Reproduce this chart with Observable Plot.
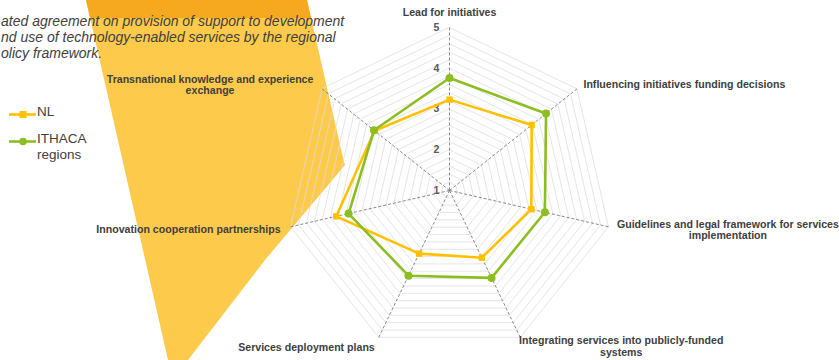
<!DOCTYPE html>
<html>
<head>
<meta charset="utf-8">
<script src="https://cdn.jsdelivr.net/npm/d3@7"></script>
<script src="https://cdn.jsdelivr.net/npm/@observablehq/plot@0.6"></script>
<style>
  html, body { margin: 0; padding: 0; background: #fff; }
  #wrap { position: relative; width: 839px; height: 360px; overflow: hidden; font-family: "Liberation Sans", Arial, sans-serif; }
  #bg { position: absolute; left: 0; top: 0; }
  #title { position: absolute; left: 1px; top: 13px; font-style: italic; font-size: 14px; line-height: 16px; color: #404040; white-space: nowrap; }
  #legend { position: absolute; left: 9px; top: 104px; font-size: 13.5px; color: #404040; }
  .li { display: flex; align-items: flex-start; height: 27px; }
  .li svg { flex: none; margin-top: 3px; }
  .li span { line-height: 16px; margin-left: 1px; }
  #chart { position: absolute; left: 0; top: 0; }
</style>
</head>
<body>
<div id="wrap">
  <svg id="bg" width="839" height="360">
    <polygon points="86,0 307,0 343,158 345,165 265,260 188,360 168,360" fill="#fdca4b"/>
    <polygon points="86,0 307,0 311,18 90,18" fill="#f6a81e"/>
  </svg>
  <div id="title">ated agreement on provision of support to development<br>nd use of technology-enabled services by the regional<br>olicy framework.</div>
  <div id="chart"></div>
  <div id="legend"></div>
</div>
<script>
// ---- data ----
const axes = [
  "Lead for initiatives",
  "Influencing initiatives funding decisions",
  "Guidelines and legal framework for services\nimplementation",
  "Integrating services into publicly-funded\nsystems",
  "Services deployment plans",
  "Innovation cooperation partnerships",
  "Transnational knowledge and experience\nexchange"
];
const seriesNames = ["NL", "ITHACA regions"];
const nlValues = [3.23, 3.58, 3.06, 2.83, 2.72, 3.85, 3.35];
const ithacaValues = [3.76, 4.03, 3.40, 3.38, 3.32, 3.54, 3.37];
const tickValues = [1, 2, 3, 4, 5];

// ---- layout / styles ----
const colors = {"NL": "#ffc000", "ITHACA regions": "#8cbe22"};
const rMin = 1, rMax = 5;
const W = 839, H = 360, cx = 449, cy = 190, pxPerUnit = 163 / (rMax - rMin);
const labelLayout = [
  {dx: 0, dy: -15, anchor: "middle"},
  {dx: 6.5, dy: -4.5, anchor: "start"},
  {dx: 119.5, dy: 3.2, anchor: "middle"},
  {dx: 101, dy: 9, anchor: "middle"},
  {dx: -4, dy: 10, anchor: "end"},
  {dx: -10, dy: 3, anchor: "end"},
  {dx: -112, dy: -4, anchor: "middle"}
];

const n = axes.length;
const ang = i => i * 2 * Math.PI / n;
const px = (v, i) => (v - rMin) * Math.sin(ang(i));
const py = (v, i) => (v - rMin) * Math.cos(ang(i));

// grid levels every 0.2
const gridLevels = d3.range(rMin + 0.2, rMax + 0.001, 0.2).map(v => +v.toFixed(1));
const gridPts = gridLevels.flatMap(l => axes.map((a, i) => ({level: l, x: px(l, i), y: py(l, i)})));
const spokes = axes.map((a, i) => ({x1: 0, y1: 0, x2: px(rMax, i), y2: py(rMax, i)}));
const seriesData = [
  ...nlValues.map((v, i) => ({series: "NL", x: px(v, i), y: py(v, i)})),
  ...ithacaValues.map((v, i) => ({series: "ITHACA regions", x: px(v, i), y: py(v, i)}))
];
const tickData = tickValues.map(t => ({t, x: px(t, 0), y: py(t, 0)}));

const labelMarks = axes.map((a, i) => Plot.text([{a, x: px(rMax, i), y: py(rMax, i)}], {
  x: "x", y: "y", text: "a", dx: labelLayout[i].dx, dy: labelLayout[i].dy,
  textAnchor: labelLayout[i].anchor, lineAnchor: "middle", lineHeight: 1.08,
  fontSize: 10.6, fontWeight: "bold", fill: "#404040"
}));

const chart = Plot.plot({
  width: W, height: H,
  margin: 0,
  style: {background: "transparent", fontFamily: "'Liberation Sans', Arial, sans-serif"},
  x: {domain: [-cx / pxPerUnit, (W - cx) / pxPerUnit], range: [0, W], axis: null},
  y: {domain: [-(H - cy) / pxPerUnit, cy / pxPerUnit], range: [H, 0], axis: null},
  marks: [
    Plot.line(gridPts, {x: "x", y: "y", z: "level", curve: "linear-closed", stroke: "#dcdcdc", strokeWidth: 0.75}),
    Plot.link(spokes, {x1: "x1", y1: "y1", x2: "x2", y2: "y2", stroke: "#7a7a7a", strokeWidth: 0.9, strokeDasharray: "3,2"}),
    Plot.text(tickData, {x: "x", y: "y", text: "t", dx: -13, fontSize: 10.5, fontWeight: "bold", fill: "#595959"}),
    Plot.line(seriesData.filter(d => d.series === "NL"), {x: "x", y: "y", curve: "linear-closed", stroke: colors["NL"], strokeWidth: 2.6}),
    Plot.dot(seriesData.filter(d => d.series === "NL"), {x: "x", y: "y", symbol: "square", r: 3.6, fill: colors["NL"], stroke: "none"}),
    Plot.line(seriesData.filter(d => d.series === "ITHACA regions"), {x: "x", y: "y", curve: "linear-closed", stroke: colors["ITHACA regions"], strokeWidth: 2.6}),
    Plot.dot(seriesData.filter(d => d.series === "ITHACA regions"), {x: "x", y: "y", symbol: "circle", r: 4, fill: colors["ITHACA regions"], stroke: "none"}),
    ...labelMarks
  ]
});
document.getElementById("chart").appendChild(chart);

// legend
const leg = document.getElementById("legend");
seriesNames.forEach(s => {
  const row = document.createElement("div");
  row.className = "li";
  const marker = s === "NL"
    ? `<rect x="10.5" y="4" width="7" height="7" fill="${colors[s]}"/>`
    : `<circle cx="14" cy="7.5" r="3.8" fill="${colors[s]}"/>`;
  row.innerHTML = `<svg width="27" height="15"><line x1="0" x2="27" y1="7.5" y2="7.5" stroke="${colors[s]}" stroke-width="2.6"/>${marker}</svg><span>${s.replace(" ", "<br>")}</span>`;
  leg.appendChild(row);
});
</script>
</body>
</html>
